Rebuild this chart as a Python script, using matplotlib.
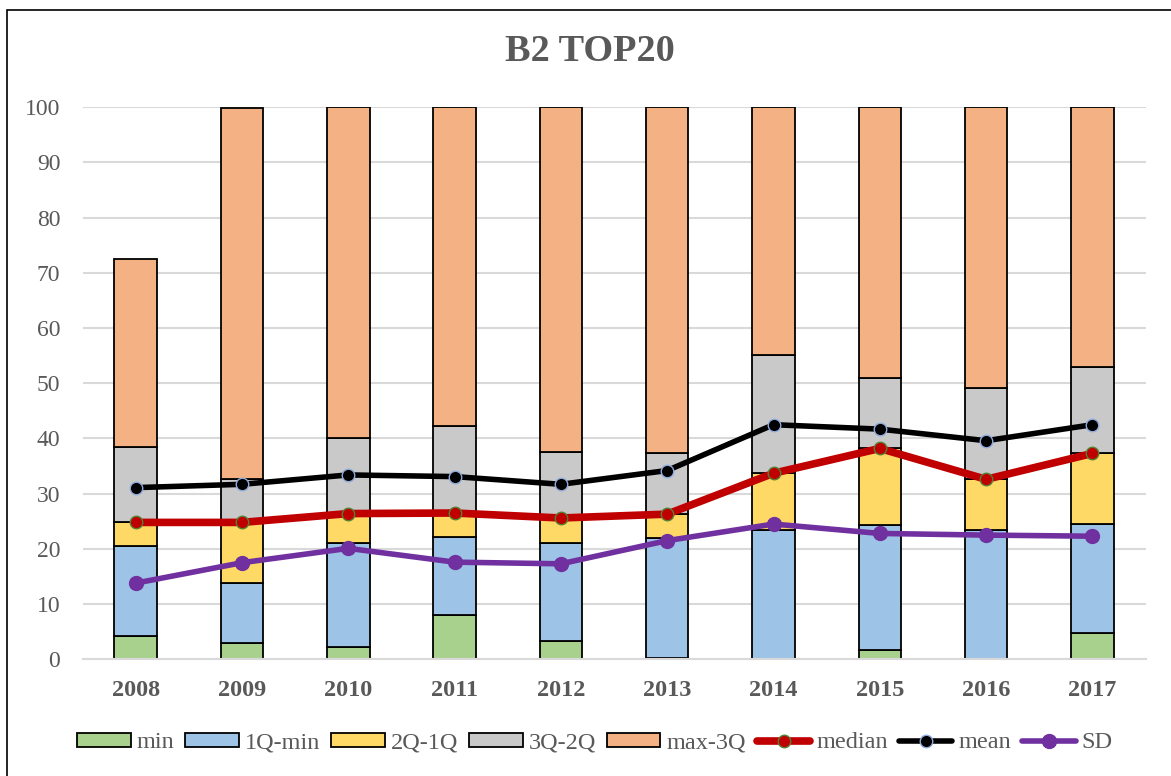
import matplotlib.pyplot as plt
import numpy as np
from matplotlib.patches import Rectangle

# Values (B2 TOP20)
years = ["2008", "2009", "2010", "2011", "2012", "2013", "2014", "2015", "2016", "2017"]
q_min = [4.3, 3.0, 2.2, 8.1, 3.4, 0.3, 0.0, 1.7, 0.0, 4.8]
q1 = [20.6, 13.8, 21.1, 22.1, 21.0, 21.9, 23.5, 24.4, 23.4, 24.5]
median = [24.8, 24.8, 26.4, 26.5, 25.6, 26.3, 33.7, 38.2, 32.6, 37.3]
q3 = [38.4, 32.7, 40.1, 42.2, 37.6, 37.3, 55.2, 51.0, 49.1, 53.0]
q_max = [72.5, 99.8, 100, 100, 100, 100, 100, 100, 100, 100]
mean = [31.1, 31.7, 33.4, 33.1, 31.7, 34.2, 42.5, 41.7, 39.6, 42.5]
sd = [13.8, 17.5, 20.1, 17.6, 17.3, 21.5, 24.5, 22.8, 22.5, 22.3]

seg_labels = ["min", "1Q-min", "2Q-1Q", "3Q-2Q", "max-3Q"]
seg_colors = ["#A9D18E", "#9DC3E6", "#FFD966", "#C9C9C9", "#F4B183"]

tops = np.array([q_min, q1, median, q3, q_max])
segments = np.vstack([tops[0], np.diff(tops, axis=0)])

plt.rcParams['font.family'] = ['Liberation Serif', 'DejaVu Serif']
txt_color = '#595959'

fig = plt.figure(figsize=(11.71, 7.76), dpi=100)
ax = fig.add_axes([82.5 / 1171, 1 - 659.3 / 776, (1145.6 - 82.5) / 1171, (659.3 - 107.3) / 776])

x = np.arange(len(years))
bottom = np.zeros(len(years))
handles = []
for vals, lab, col in zip(segments, seg_labels, seg_colors):
    b = ax.bar(x, vals, bottom=bottom, width=0.4, color=col, edgecolor='black',
               linewidth=1.3, label=lab, zorder=2)
    handles.append(b)
    bottom += vals

l1, = ax.plot(x, median, color='#C00000', linewidth=5.5, marker='o', markersize=9,
              markerfacecolor='#C00000', markeredgecolor='#548235', markeredgewidth=1,
              label='median', zorder=4, solid_capstyle='round')
l2, = ax.plot(x, mean, color='black', linewidth=4, marker='o', markersize=9,
              markerfacecolor='black', markeredgecolor='#8FAADC', markeredgewidth=1,
              label='mean', zorder=5, solid_capstyle='round')
l3, = ax.plot(x, sd, color='#7030A0', linewidth=4, marker='o', markersize=10,
              markerfacecolor='#7030A0', markeredgecolor='#7030A0',
              label='SD', zorder=3, solid_capstyle='round')
handles += [l1, l2, l3]

ax.set_xlim(-0.5, len(years) - 0.5)
ax.set_ylim(0, 100)
ax.set_yticks(range(0, 101, 10))
ax.set_xticks(x)
ax.set_xticklabels(years, fontsize=17.5, fontweight='bold', color=txt_color)
ax.tick_params(axis='y', labelsize=17, labelcolor=txt_color, length=0, pad=16)
ax.tick_params(axis='x', length=0, pad=15)
ax.grid(axis='y', color='#D9D9D9', linewidth=1.5, zorder=0)
ax.set_axisbelow(True)
for s in ['top', 'right', 'left']:
    ax.spines[s].set_visible(False)
ax.spines['bottom'].set_color('#D9D9D9')
ax.spines['bottom'].set_linewidth(1.5)

fig.text(590 / 1171, 1 - 51.7 / 776, 'B2 TOP20', ha='center', va='center',
         fontsize=27.5, fontweight='bold', color=txt_color)

labels = [h.get_label() for h in handles]
fig.legend(handles, labels, loc='center', bbox_to_anchor=(595 / 1171, 1 - 743 / 776),
           ncol=8, frameon=False, fontsize=17.5, handlelength=2.2, handleheight=0.5,
           handletextpad=0.25, columnspacing=0.45, labelcolor=txt_color)

# chart frame (only left and top edges fall inside the image)
fig.add_artist(Rectangle((7 / 1171, -0.05), 1.1, 1.05 - 10 / 776, transform=fig.transFigure,
                         fill=False, edgecolor='black', linewidth=1.2))

fig.savefig('out.png', dpi=100)
plt.close(fig)
